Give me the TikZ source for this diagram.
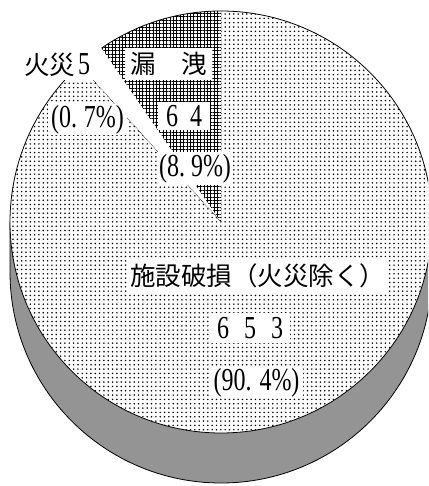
\documentclass[tikz,border=0pt]{standalone}
\usepackage{fontspec}
\setmainfont{Liberation Serif}
\newfontfamily\cjkf{Noto Sans CJK JP}
\newfontfamily\numf[FakeStretch=0.75]{Liberation Serif}
\usetikzlibrary{patterns.meta}
\begin{document}
\begin{tikzpicture}[x=1pt,y=1pt,
  lbl/.style={fill=white, inner sep=0pt, align=center},
  cj/.style={font=\cjkf\fontsize{25.5}{30}\selectfont},
  nm/.style={font=\numf\fontsize{32}{36}\selectfont},
  rim/.style={line width=0.8pt, draw=black},
  dotfill/.style={pattern={Dots[radius=0.85pt, distance=4.33pt]}},
  hatchfill/.style={pattern={Hatch[angle=0, distance=3.4pt, line width=0.95pt]}},
  sidefill/.style={fill=black!42}]
\useasboundingbox (0,0) rectangle (428,486);
\clip (0,0) rectangle (428,486);
\fill[white] (0,0) rectangle (428,486);
\coordinate (C) at (221,264);
% side band
\fill[sidefill] (10,264) -- (10,214) arc[start angle=180, end angle=360, radius=211]
  -- (432,264) arc[start angle=0, end angle=-180, radius=211] -- cycle;
\draw[rim] (10,264) -- (10,214) arc[start angle=180, end angle=360, radius=211] -- (432,264);
% top face
\fill[white] (C) circle[radius=211];
\fill[dotfill] (C) -- ++(132:211) arc[start angle=132, end angle=450, radius=211] -- cycle;
\fill[hatchfill] (C) -- ++(90:211) arc[start angle=90, end angle=124.5, radius=211] -- cycle;
\draw[rim] (C) ++(132:211) arc[start angle=132, end angle=484.5, radius=211];
\draw[densely dotted, line width=0.6pt] (C) -- ++(132:211);
% labels
\node[lbl, cj, minimum width=78, minimum height=30] (fire) at (57,421)
  {火災\kern3pt{\numf\fontsize{32}{36}\selectfont 5}};
\node[lbl, nm, minimum width=79, minimum height=31] (firep) at (87.5,366.5) {(0.\kern7pt 7\%)};
\node[lbl, cj, minimum width=87, minimum height=32] (leak) at (168.5,422) {漏\kern26pt 洩};
\node[lbl, nm, minimum width=52, minimum height=28] (leakn) at (184,370) {6\kern12pt 4};
\node[lbl, nm, minimum width=76, minimum height=33] (leakp) at (195,317.5) {(8.\kern6pt 9\%)};
\node[lbl, cj, minimum width=259, minimum height=32] (dmg) at (257.5,210) {施設破損（火災除く）};
\node[lbl, nm, minimum width=80, minimum height=30] (dmgn) at (250,158) {6\kern15pt 5\kern15pt 3};
\node[lbl, nm, minimum width=93, minimum height=29] (dmgp) at (256.5,103.5) {(90.\kern8pt 4\%)};
\end{tikzpicture}
\end{document}
